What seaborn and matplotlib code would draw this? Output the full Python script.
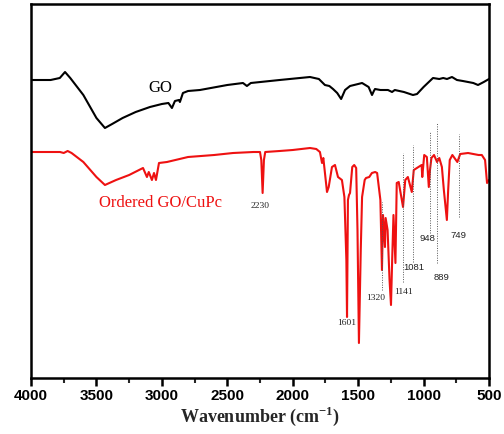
import numpy as np
import pandas as pd
import matplotlib
matplotlib.use("Agg")
import matplotlib.pyplot as plt
import seaborn as sns
from matplotlib.ticker import MultipleLocator

# ---- data ----
go_wn = [4000, 3850, 3780, 3740, 3700, 3600, 3500, 3435, 3380, 3300, 3200, 3091, 3000, 2950, 2923,
         2900, 2870, 2862, 2839, 2800, 2709, 2500, 2380, 2350, 2320, 2100, 1868, 1800, 1754, 1720,
         1692, 1660, 1630, 1600, 1562, 1500, 1470, 1420, 1394, 1380, 1371, 1330, 1272, 1241, 1220,
         1150, 1081, 1050, 1000, 928, 880, 850, 821, 783, 745, 700, 620, 584, 540, 500]
go_t = [298, 298, 300, 306, 300, 283, 260, 250, 254, 260, 266, 271, 274, 275, 270,
        277, 278, 276, 285, 287, 288, 293, 295, 292, 295, 298, 301, 299, 293, 292,
        289, 285, 279, 288, 292, 294, 295, 291, 283, 287, 289, 288, 288, 286, 288,
        286, 283, 284, 291, 300, 299, 300, 299, 301, 298, 297, 295, 293, 296, 299]

cupc_wn = [4000, 3850, 3778, 3750, 3720, 3690, 3600, 3500, 3435, 3350, 3250, 3144, 3114, 3100, 3076,
           3060, 3045, 3022, 2961, 2800, 2600, 2456, 2300, 2250, 2240, 2230, 2220, 2210, 2100, 2000,
           1868, 1820, 1792, 1776, 1766, 1738, 1725, 1700, 1677, 1654, 1624, 1605, 1590, 1585, 1578,
           1570, 1562, 1545, 1530, 1515, 1505, 1494, 1480, 1470, 1450, 1440, 1415, 1395, 1370, 1355,
           1330, 1318, 1310, 1295, 1290, 1275, 1260, 1249, 1240, 1230, 1215, 1205, 1190, 1157, 1140,
           1120, 1090, 1075, 1015, 1010, 995, 975, 960, 951, 940, 920, 897, 880, 860, 845,
           822, 812, 800, 780, 742, 720, 660, 580, 555, 530, 515, 500]
cupc_t = [226, 226, 226, 225, 227, 225, 216, 201, 193, 198, 203, 210, 201, 206, 198,
          205, 198, 215, 216, 221, 223, 225, 226, 226, 218, 185, 218, 226, 227, 228,
          230, 229, 226, 215, 220, 186, 191, 211, 213, 201, 198, 181, 118, 61, 178,
          183, 185, 211, 213, 210, 148, 35, 128, 181, 198, 200, 201, 205, 206, 205,
          178, 108, 163, 131, 160, 148, 98, 73, 118, 163, 115, 195, 196, 171, 198,
          201, 186, 208, 213, 201, 223, 221, 191, 208, 220, 223, 216, 220, 211, 188,
          158, 188, 218, 223, 216, 224, 225, 223, 223, 218, 195, 198]

series_names = ["GO", "Ordered GO/CuPc"]

# peak annotations: label, text position (wn, level), guide line (wn, top, bottom)
serif_labels = ["2230", "1601", "1320", "1141"]
serif_pos = [(2250, 172), (1585, 55), (1364, 80), (1150, 86)]
sans_labels = ["1081", "948", "889", "749"]
sans_pos = [(1073, 110), (974, 140), (859, 101), (737, 143)]
guide_wn = [1318, 1157, 1081, 951, 897, 729]
guide_top = [176, 225, 233, 246, 255, 244]
guide_bottom = [88, 96, 116, 145, 115, 161]

df = pd.concat([
    pd.DataFrame({"wn": go_wn, "T": go_t, "sample": series_names[0]}),
    pd.DataFrame({"wn": cupc_wn, "T": cupc_t, "sample": series_names[1]}),
], ignore_index=True)

sns.set_theme(style="ticks")
plt.rcParams["font.family"] = ["Liberation Sans", "DejaVu Sans"]

fig = plt.figure(figsize=(5.04, 4.34), dpi=100)
ax = fig.add_axes([31 / 504, 56 / 434, 458 / 504, 374 / 434])

sns.lineplot(data=df, x="wn", y="T", hue="sample", sort=False, estimator=None,
             palette={"GO": "black", "Ordered GO/CuPc": "#ee1111"},
             linewidth=1.5, legend=False, ax=ax)

ax.set_xlim(4000, 500)
ax.set_ylim(0, 374)
ax.set_yticks([])
ax.xaxis.set_major_locator(MultipleLocator(500))
ax.xaxis.set_minor_locator(MultipleLocator(250))
ax.tick_params(axis="x", which="major", direction="out", length=6, width=1.8,
               labelsize=11, pad=2, colors="black")
ax.tick_params(axis="x", which="minor", direction="out", length=3.5, width=1.5)
for lab in ax.get_xticklabels():
    lab.set_fontweight("bold")
for sp in ax.spines.values():
    sp.set_linewidth(1.8)
    sp.set_color("black")
ax.set_ylabel("")
ax.set_xlabel("Wavenumber (cm$^{\\mathregular{-1}}$)", fontsize=13, fontweight="bold",
              family="Liberation Serif", labelpad=1)

# series labels
ax.text(3014, 290, "GO", fontsize=12, family="Liberation Serif", color="black",
        ha="center", va="center")
ax.text(3007, 175, "Ordered GO/CuPc", fontsize=12, family="Liberation Serif",
        color="#ee1111", ha="center", va="center")

for x, t, b in zip(guide_wn, guide_top, guide_bottom):
    ax.plot([x, x], [b, t], linestyle=(0, (1, 1.5)), color="#555555", linewidth=0.7)

for lab, (x, y) in zip(serif_labels, serif_pos):
    ax.text(x, y, lab, fontsize=6.8, family="Liberation Serif", ha="center", va="center",
            color="#222222")
for lab, (x, y) in zip(sans_labels, sans_pos):
    ax.text(x, y, lab, fontsize=6.8, family="Liberation Sans", ha="center", va="center",
            color="#222222")

fig.savefig("out.png", dpi=100)
